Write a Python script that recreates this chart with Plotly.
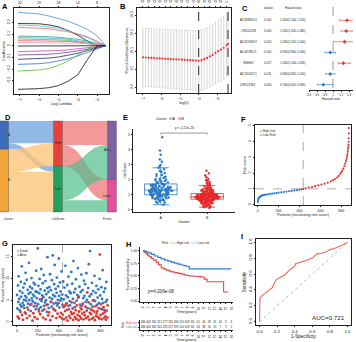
import plotly.graph_objects as go

W, H = 356, 342
def fx(p): return p / W
def fy(p): return 1 - p / H

FONT = "Liberation Sans"
INK = "#222222"
RED = "#E8372F"
BLUE = "#2C79C6"

# ---------------- A: LASSO coefficient paths ----------------
a_loglam = [-7.09, -6.5, -6.0, -5.5, -5.0, -4.5, -4.0, -3.5, -3.0, -2.55]
a_c01 = [0.286, 0.280, 0.272, 0.255, 0.235, 0.210, 0.177, 0.140, 0.085, 0.0]
a_c02 = [0.190, 0.190, 0.188, 0.178, 0.162, 0.130, 0.090, 0.040, 0.0, 0.0]
a_c03 = [0.177, 0.175, 0.170, 0.160, 0.150, 0.130, 0.100, 0.070, 0.030, 0.0]
a_c04 = [0.157, 0.155, 0.150, 0.145, 0.135, 0.120, 0.100, 0.075, 0.040, 0.0]
a_c05 = [0.083, 0.082, 0.080, 0.077, 0.072, 0.065, 0.055, 0.040, 0.020, 0.0]
a_c06 = [0.071, 0.070, 0.068, 0.066, 0.062, 0.055, 0.045, 0.030, 0.010, 0.0]
a_c07 = [0.057, 0.056, 0.055, 0.054, 0.050, 0.045, 0.035, 0.020, 0.005, 0.0]
a_c08 = [0.043, 0.043, 0.042, 0.042, 0.040, 0.037, 0.030, 0.020, 0.008, 0.0]
a_c09 = [0.026, 0.026, 0.026, 0.026, 0.025, 0.024, 0.022, 0.018, 0.010, 0.0]
a_c10 = [-0.003, -0.003, -0.003, -0.003, -0.002, -0.002, -0.001, -0.001, 0.0, 0.0]
a_c11 = [-0.051, -0.050, -0.049, -0.046, -0.042, -0.036, -0.028, -0.018, -0.008, 0.0]
a_c12 = [-0.080, -0.079, -0.077, -0.073, -0.067, -0.058, -0.045, -0.030, -0.012, 0.0]
a_c13 = [-0.117, -0.115, -0.112, -0.106, -0.097, -0.083, -0.065, -0.042, -0.018, 0.0]
a_c14 = [-0.160, -0.158, -0.154, -0.146, -0.133, -0.114, -0.088, -0.057, -0.025, 0.0]
a_c15 = [-0.217, -0.214, -0.208, -0.195, -0.170, -0.130, -0.080, -0.030, 0.0, 0.0]
a_c16 = [-0.374, -0.372, -0.368, -0.360, -0.342, -0.305, -0.250, -0.120, 0.0, 0.0]
a_colors = ["#4A8FDB", "#111111", "#3EC4D6", "#E8676A", "#2AA39A", "#39B8E0", "#66BB44", "#E85A5A",
            "#F08CB4", "#111111", "#C146C1", "#7B3F9E", "#2B2B5E", "#3A6FD8", "#58BB34", "#111111"]
a_ticks = [-7, -6, -5, -4, -3]
a_top_labels = ["20", "19", "18", "14", "8"]

# ---------------- B: cross-validation ----------------
b_loglam = [-7.0, -6.85, -6.7, -6.55, -6.4, -6.25, -6.1, -5.95, -5.8, -5.65, -5.5, -5.35, -5.2, -5.05,
            -4.9, -4.75, -4.6, -4.45, -4.3, -4.15, -4.0, -3.85, -3.7, -3.55, -3.4, -3.25, -3.1, -2.95,
            -2.8, -2.65, -2.5, -2.42]
b_dev = [10.065, 10.064, 10.063, 10.062, 10.061, 10.060, 10.059, 10.058, 10.057, 10.056, 10.055, 10.054,
         10.054, 10.053, 10.052, 10.051, 10.050, 10.049, 10.048, 10.047, 10.046, 10.049, 10.055, 10.062,
         10.070, 10.079, 10.090, 10.100, 10.108, 10.118, 10.132, 10.140]
b_sd = [0.161, 0.161, 0.161, 0.162, 0.162, 0.162, 0.162, 0.163, 0.163, 0.163, 0.163, 0.164, 0.164, 0.164,
        0.165, 0.165, 0.165, 0.166, 0.166, 0.166, 0.167, 0.167, 0.168, 0.168, 0.169, 0.170, 0.171, 0.172,
        0.173, 0.174, 0.175, 0.176]
b_min, b_1se = -4.0, -2.42
b_top_pos = [-7.0, -6.7, -6.4, -6.1, -5.8, -5.5, -5.2, -4.9, -4.6, -4.3, -4.0, -3.7, -3.4, -3.1, -2.8, -2.5]
b_top_lab = ["20", "20", "20", "20", "20", "20", "20", "20", "19", "19", "18", "16", "14", "12", "10", "5"]

# ---------------- C: forest plot ----------------
c_genes = ["AC099850.3", "LINC01138", "AC015908.3", "AL031985.3", "SNHG3", "AC145207.5", "LINC02362"]
c_pval = ["0.001", "0.001", "0.002", "0.001", "0.017", "0.011", "0.005"]
c_hr = [1.35, 1.33, 1.29, 0.93, 1.26, 0.93, 0.76]
c_lo = [1.16, 1.20, 1.01, 0.80, 1.14, 0.82, 0.61]
c_hi = [1.52, 1.48, 1.54, 1.06, 1.43, 1.05, 0.99]

# ---------------- D: alluvial ----------------
d_nodes = ["A", "B", "High", "Low", "Alive", "Dead"]
d_axes = ["cluster", "riskScore", "Fustat"]
d_src = [0, 0, 1, 1, 2, 2, 3, 3]
d_tgt = [2, 3, 2, 3, 4, 5, 4, 5]
d_val = [67, 17, 68, 120, 72, 63, 102, 35]

# ---------------- E: riskScore by cluster ----------------
e_a = [0.33, 0.44, 0.47, 0.53, 0.56, 0.61, 0.62, 0.66, 0.68, 0.69,
       0.71, 0.72, 0.76, 0.78, 0.78, 0.81, 0.83, 0.83, 0.86, 0.87, 0.88, 0.90, 0.91, 0.93, 0.94, 0.95, 0.95, 0.97, 0.98, 0.99,
       1.00, 1.01, 1.01, 1.03, 1.05, 1.05, 1.06, 1.08, 1.09, 1.10, 1.10, 1.12, 1.13, 1.15, 1.15, 1.16, 1.18, 1.19, 1.20, 1.21,
       1.21, 1.23, 1.24, 1.25, 1.26, 1.26, 1.27, 1.28, 1.29, 1.30,
       1.31, 1.32, 1.34, 1.35, 1.36, 1.37, 1.39, 1.40, 1.41, 1.43, 1.44, 1.45, 1.47, 1.48, 1.50, 1.51, 1.52, 1.54, 1.55, 1.57,
       1.58, 1.60, 1.61, 1.63, 1.64, 1.65, 1.66, 1.68, 1.69, 1.70,
       1.72, 1.75, 1.78, 1.81, 1.82, 1.86, 1.90, 1.93, 1.94, 1.99, 2.03, 2.05, 2.11, 2.15, 2.19,
       2.23, 2.31, 2.36, 2.44, 2.52, 2.57, 2.69, 2.78, 2.88, 2.97,
       3.18, 3.33, 3.64, 3.93, 4.81]
e_b = [0.12, 0.17, 0.19, 0.23, 0.25, 0.27, 0.30, 0.31, 0.33, 0.36, 0.37, 0.39,
       0.41, 0.42, 0.44, 0.45, 0.47, 0.48, 0.49, 0.50, 0.52, 0.53, 0.54, 0.55, 0.56, 0.57, 0.58, 0.59, 0.60, 0.61,
       0.61, 0.62, 0.63, 0.64, 0.64, 0.65, 0.66, 0.67, 0.67, 0.68, 0.69, 0.69,
       0.70, 0.70, 0.71, 0.71, 0.72, 0.72, 0.73, 0.73, 0.74, 0.74, 0.75, 0.75, 0.75, 0.76, 0.76, 0.77, 0.77, 0.77,
       0.78, 0.78, 0.79, 0.79, 0.79, 0.80, 0.80, 0.80, 0.81, 0.81, 0.81, 0.82, 0.82, 0.82, 0.83, 0.83, 0.83, 0.84,
       0.84, 0.84, 0.84, 0.85, 0.85, 0.85, 0.85,
       0.86, 0.86, 0.87, 0.87, 0.88, 0.88, 0.89, 0.89, 0.90, 0.90, 0.91, 0.91, 0.92, 0.92, 0.93, 0.93, 0.94, 0.94,
       0.95, 0.95, 0.96, 0.96, 0.97, 0.97, 0.98, 0.98, 0.99, 0.99, 1.00, 1.00, 1.01, 1.01, 1.02, 1.02, 1.03, 1.03,
       1.04, 1.04, 1.05, 1.05, 1.06, 1.06,
       1.07, 1.08, 1.10, 1.11, 1.12, 1.14, 1.15, 1.16, 1.18, 1.19, 1.20, 1.22, 1.23, 1.24, 1.26, 1.27, 1.28, 1.30,
       1.31, 1.32, 1.34, 1.35, 1.36, 1.38, 1.39,
       1.42, 1.46, 1.49, 1.53, 1.57, 1.61, 1.66, 1.70, 1.75, 1.79, 1.84, 1.90, 1.96,
       2.04, 2.15, 2.28, 2.41, 2.58]
e_groups = ["A", "B"]
e_pval_text = "p < 2.22e-16"

# ---------------- F: risk score curve ----------------
f_low_rank = [1, 3, 6, 10, 15, 20, 30, 40, 50, 65, 80, 100, 120, 140, 160, 180, 200, 225, 250, 275, 300,
              325, 350, 375, 400, 420, 436]
f_low_score = [0.17, 0.28, 0.36, 0.42, 0.46, 0.50, 0.54, 0.57, 0.60, 0.62, 0.64, 0.66, 0.68, 0.70, 0.72, 0.74,
               0.76, 0.78, 0.80, 0.83, 0.85, 0.87, 0.90, 0.92, 0.95, 0.97, 0.99]
f_high_rank = [437, 460, 490, 520, 550, 580, 610, 640, 670, 700, 720, 740, 760, 775, 790, 800, 810, 820, 830,
               838, 845, 850, 855, 859, 862, 865, 867, 869, 870, 871, 872, 873]
f_high_score = [1.00, 1.04, 1.08, 1.12, 1.17, 1.22, 1.27, 1.33, 1.40, 1.48, 1.55, 1.62, 1.72, 1.82, 1.95, 2.05,
                2.15, 2.28, 2.45, 2.60, 2.75, 2.90, 3.05, 3.20, 3.35, 3.50, 3.62, 3.78, 3.98, 4.20, 4.50, 4.85]
f_cut_rank, f_cut_score = 436, 1.0

# ---------------- G: survival status ----------------
g_status = ("AADAAADAAA" "ADAAAADAAD" "AAADAAAADA" "AADAAADAAA" "DAAAADAAAD" "AADAAADAAA" "AADAADAAAA"
            "DAAADAAAAD" "AAADAAADAA" "ADAADAAAAD" "AADAAADAAD" "AAADAADAAA" "AADAADAAAD" "AADAAADAAA"
            "DAADAA"
            "DADADAADAD" "ADADADADAA" "DADADADAAD" "ADADADADAD" "ADADADADAD" "DADADADADA" "DADADADADA"
            "DADADADADA" "DADADADADA" "DADADADADA" "DADADADADA" "DADADADADA" "DADADADADA" "DADADADADA"
            "DADD")
g_time = [6.2, 3.1, 1.2, 8.4, 4.6, 10.5, 0.8, 5.3, 2.7, 7.1,
          4.0, 2.3, 9.2, 5.8, 3.5, 12.8, 1.6, 6.7, 4.4, 0.5,
          7.9, 3.8, 5.1, 3.2, 8.8, 2.2, 6.0, 11.3, 1.9, 4.9,
          5.6, 9.7, 0.9, 3.3, 7.4, 4.2, 2.8, 6.5, 13.6, 5.0,
          1.4, 8.1, 3.9, 6.8, 2.5, 4.1, 10.1, 5.4, 7.7, 0.3,
          4.7, 6.3, 2.0, 9.0, 3.6, 5.9, 1.1, 8.6, 4.3, 7.0,
          2.9, 11.8, 3.6, 5.5, 6.9, 0.7, 16.9, 4.1, 8.3, 3.0,
          2.4, 6.6, 9.9, 5.2, 1.8, 7.5, 3.4, 12.2, 4.8, 5.3,
          6.1, 2.6, 8.9, 1.0, 5.7, 10.8, 3.7, 2.9, 7.2, 4.5,
          9.4, 0.6, 5.0, 6.4, 3.9, 2.3, 7.8, 14.9, 4.0, 1.5,
          6.9, 3.2, 2.2, 8.0, 5.6, 11.0, 0.4, 4.6, 7.3, 4.6,
          3.5, 9.6, 5.3, 1.3, 15.3, 6.2, 3.0, 4.2, 8.7, 2.8,
          13.1, 5.9, 2.6, 7.6, 4.4, 0.9, 6.7, 10.2, 3.8, 1.9,
          5.1, 8.2, 4.3, 14.6, 6.0, 3.3, 1.2, 9.1, 4.9, 7.0,
          2.1, 5.4, 11.6, 0.8, 6.3, 3.9,
          1.7, 9.3, 3.4, 5.2, 0.6, 7.9, 3.6, 2.5, 12.9, 4.0,
          6.1, 1.0, 4.3, 2.8, 8.5, 0.3, 5.7, 3.7, 10.4, 2.9,
          1.4, 7.0, 4.8, 3.8, 0.9, 6.6, 2.3, 11.5, 4.5, 1.8,
          8.8, 3.1, 5.3, 0.5, 14.0, 2.0, 6.8, 4.4, 3.4, 1.1,
          7.6, 2.7, 9.8, 0.7, 4.9, 3.8, 6.2, 1.6, 12.4, 5.6,
          0.4, 5.8, 2.4, 8.1, 1.3, 4.0, 3.3, 6.9, 0.8, 10.9,
          2.9, 3.7, 1.9, 7.3, 4.2, 5.5, 0.6, 9.5, 2.2, 6.0,
          1.5, 8.7, 3.5, 4.6, 0.9, 11.2, 2.6, 5.1, 6.8, 3.2,
          1.2, 7.8, 4.5, 13.3, 0.5, 5.9, 2.1, 16.3, 3.0, 4.1,
          1.8, 6.4, 0.7, 9.0, 2.7, 3.5, 4.9, 7.1, 1.0, 5.0,
          2.4, 10.6, 0.4, 4.8, 3.6, 6.7, 1.4, 8.3, 2.0, 3.9,
          2.5, 5.6, 1.1, 7.5, 3.2, 4.3, 0.8, 9.9, 15.5, 6.1,
          1.6, 3.0, 4.1, 8.0, 0.6, 5.3, 2.9, 11.9, 1.9, 4.4,
          3.4, 6.9, 0.9, 2.7, 2.2, 7.7, 1.3, 4.6, 0.5, 9.2,
          2.6, 5.1, 1.0, 3.8]
g_rank = list(range(1, 871, 3))
g_cut_rank = 436

# ---------------- H: Kaplan-Meier ----------------
h_high_t = [0, 0.2, 0.5, 0.8, 1.1, 1.5, 1.9, 2.4, 2.8, 3.3, 3.8, 4.2, 4.7, 5.1, 5.7, 6.3, 6.9, 7.5, 8.0, 8.4,
            9.2, 9.9, 10.5, 11.1, 11.6, 12.4, 13.6, 14.6, 15.4]
h_high_s = [1.0, 0.975, 0.945, 0.915, 0.885, 0.85, 0.815, 0.77, 0.72, 0.66, 0.635, 0.615, 0.595, 0.58, 0.565,
            0.55, 0.535, 0.52, 0.51, 0.50, 0.495, 0.487, 0.48, 0.436, 0.385, 0.385, 0.385, 0.18, 0.18]
h_low_t = [0, 0.5, 0.9, 1.5, 2.1, 2.7, 3.3, 3.9, 4.5, 5.1, 5.7, 6.3, 6.9, 7.4, 7.8, 8.3, 8.4, 12.0, 16.0]
h_low_s = [1.0, 0.98, 0.96, 0.93, 0.897, 0.87, 0.84, 0.815, 0.795, 0.775, 0.756, 0.735, 0.718, 0.705, 0.692,
           0.68, 0.641, 0.641, 0.641]
h_years = list(range(0, 17))
h_high_n = [436, 402, 352, 312, 277, 235, 180, 150, 109, 80, 61, 44, 33, 25, 16, 9, 4]
h_low_n = [436, 403, 362, 322, 295, 257, 195, 150, 109, 80, 56, 38, 25, 15, 7, 3, 1]
h_pval_text = "p=4.206e-08"

# ---------------- I: ROC ----------------
i_fpr = [0, 0, 0.005, 0.02, 0.04, 0.07, 0.10, 0.12, 0.14, 0.16, 0.17, 0.19, 0.24, 0.29, 0.33, 0.37, 0.40,
         0.41, 0.48, 0.53, 0.60, 0.65, 0.70, 0.74, 0.81, 0.85, 0.89, 0.96, 1.0]
i_tpr = [0, 0.23, 0.30, 0.32, 0.34, 0.36, 0.39, 0.41, 0.42, 0.46, 0.48, 0.53, 0.56, 0.59, 0.64, 0.67, 0.70,
         0.73, 0.75, 0.77, 0.80, 0.85, 0.86, 0.87, 0.91, 0.92, 0.94, 0.97, 1.0]
i_auc_text = "AUC=0.721"

# =====================================================================
def tf(size=3.6, color=INK):
    return dict(family=FONT, size=size, color=color)

def axis(domain, rng, anchor, title="", tsize=3.8, **kw):
    d = dict(domain=domain, range=rng, anchor=anchor, showgrid=False, zeroline=False,
             showline=True, linecolor=INK, linewidth=0.6, ticks="outside", ticklen=1.5,
             tickwidth=0.5, tickcolor=INK, tickfont=tf(), automargin=False, fixedrange=True,
             title=dict(text=title, font=tf(tsize), standoff=1))
    d.update(kw)
    return d

fig = go.Figure()
ann = []
shapes = []

# ---- A
a_curves = [a_c01, a_c02, a_c03, a_c04, a_c05, a_c06, a_c07, a_c08, a_c09, a_c10, a_c11, a_c12, a_c13,
            a_c14, a_c15, a_c16]
for vals, col in zip(a_curves, a_colors):
    fig.add_trace(go.Scatter(x=a_loglam, y=vals, mode="lines", line=dict(color=col, width=0.8),
                             xaxis="x", yaxis="y", showlegend=False, hoverinfo="skip"))
fig.add_trace(go.Scatter(x=a_ticks, y=[0] * len(a_ticks), mode="markers", marker=dict(opacity=0),
                         xaxis="x10", yaxis="y", showlegend=False, hoverinfo="skip"))

# ---- B
fig.add_trace(go.Scatter(x=b_loglam, y=b_dev, mode="markers",
                         marker=dict(color="#E8372F", size=2.2),
                         error_y=dict(type="data", array=b_sd, color="#B0B0B0", thickness=0.5, width=0.8),
                         xaxis="x2", yaxis="y2", showlegend=False, hoverinfo="skip"))
fig.add_trace(go.Scatter(x=b_top_pos, y=[10.0] * len(b_top_pos), mode="markers", marker=dict(opacity=0),
                         xaxis="x11", yaxis="y2", showlegend=False, hoverinfo="skip"))
for xv in (b_min, b_1se):
    shapes.append(dict(type="line", xref="x2", yref="y2 domain", x0=xv, x1=xv, y0=0, y1=1,
                       line=dict(color="#111", width=0.9, dash="dash")))

# ---- C
c_rows = list(range(len(c_genes), 0, -1))
for cond, col in ((lambda h: h > 1, RED), (lambda h: h <= 1, BLUE)):
    idx = [i for i, h in enumerate(c_hr) if cond(h)]
    fig.add_trace(go.Scatter(
        x=[c_hr[i] for i in idx], y=[c_rows[i] for i in idx], mode="markers",
        marker=dict(color=col, size=3, symbol="diamond"),
        error_x=dict(type="data", symmetric=False,
                     array=[c_hi[i] - c_hr[i] for i in idx],
                     arrayminus=[c_hr[i] - c_lo[i] for i in idx],
                     color=col, thickness=0.6, width=1),
        xaxis="x3", yaxis="y3", showlegend=False, hoverinfo="skip", cliponaxis=False))
shapes.append(dict(type="line", xref="x3", yref="paper", x0=1, x1=1, y0=fy(88), y1=fy(7),
                   line=dict(color="#555", width=0.6, dash="dash")))
ann.append(dict(x=fx(268), y=fy(8), text="pvalue", font=tf(3)))
ann.append(dict(x=fx(293), y=fy(8), text="Hazard ratio", font=tf(3)))
for i, g in enumerate(c_genes):
    ry = fy(20 + i * 10.8)
    ann.append(dict(x=fx(248), y=ry, text=g, font=tf(3)))
    ann.append(dict(x=fx(268), y=ry, text=c_pval[i], font=tf(3)))
    ann.append(dict(x=fx(293), y=ry, text=f"{c_hr[i]:.3f}({c_lo[i]:.3f}-{c_hi[i]:.3f})", font=tf(3)))

# ---- D
d_node_col = ["#3D6DB5", "#F5A43A", "#E8403A", "#23A05F", "#7E62A3", "#E2529A"]
d_link_col = ["rgba(110,160,220,0.75)"] * 2 + ["rgba(252,196,120,0.8)"] * 2 + \
             ["rgba(238,110,110,0.7)"] * 2 + ["rgba(80,190,140,0.7)"] * 2
fig.add_trace(go.Sankey(
    domain=dict(x=[fx(4), fx(112)], y=[fy(212), fy(121)]),
    arrangement="fixed",
    node=dict(label=[""] * 6, pad=0.1, thickness=9, color=d_node_col,
              line=dict(color="#444", width=0.4),
              x=[0.001, 0.001, 0.5, 0.5, 0.999, 0.999],
              y=[0.154, 0.654, 0.248, 0.748, 0.32, 0.82]),
    link=dict(source=d_src, target=d_tgt, value=d_val, color=d_link_col),
    hoverinfo="skip"))
for name, xp, yp in zip(d_nodes, [8.5, 8.5, 58, 58, 107, 107], [135, 180, 143, 189, 150, 196]):
    ann.append(dict(x=fx(xp), y=fy(yp), text=name, font=tf(3)))
for name, xp in zip(d_axes, [8.5, 58, 107]):
    ann.append(dict(x=fx(xp), y=fy(219), text=name, font=tf(3)))

# ---- E
for grp, vals, col in ((e_groups[0], e_a, "#2A78C4"), (e_groups[1], e_b, "#E8292A")):
    fig.add_trace(go.Box(x=[grp] * len(vals), y=vals, boxpoints="all", jitter=0.75, pointpos=0,
                         width=0.7, marker=dict(color=col, size=2.4), line=dict(color=col, width=0.8),
                         fillcolor="rgba(255,255,255,0)", xaxis="x4", yaxis="y4",
                         showlegend=False, hoverinfo="skip"))
for x0, y0, x1, y1 in (("A", 4.98, "A", 5.08), ("A", 5.08, "B", 5.08), ("B", 5.08, "B", 4.98)):
    shapes.append(dict(type="line", xref="x4", yref="y4", x0=x0, y0=y0, x1=x1, y1=y1,
                       line=dict(color="#555", width=0.6)))
ann.append(dict(x=0.5, y=5.12, xref="x4", yref="y4", text=e_pval_text, font=tf(3.4), yanchor="bottom"))
ann.append(dict(x=fx(170), y=fy(119),
                text='cluster  <span style="color:#2A78C4">⊟</span> A   <span style="color:#E8292A">⊟</span> B',
                font=tf(3.6)))

# ---- F
fig.add_trace(go.Scatter(x=f_low_rank, y=f_low_score, mode="markers", marker=dict(color=BLUE, size=2.2),
                         xaxis="x5", yaxis="y5", showlegend=False, hoverinfo="skip"))
fig.add_trace(go.Scatter(x=f_high_rank, y=f_high_score, mode="markers", marker=dict(color=RED, size=2.2),
                         xaxis="x5", yaxis="y5", showlegend=False, hoverinfo="skip"))
shapes.append(dict(type="line", xref="x5", yref="y5 domain", x0=f_cut_rank, x1=f_cut_rank, y0=0, y1=1,
                   line=dict(color="#777", width=0.6, dash="dash")))
shapes.append(dict(type="line", xref="x5 domain", yref="y5", x0=0, x1=1, y0=f_cut_score, y1=f_cut_score,
                   line=dict(color="#777", width=0.6, dash="dash")))
ann.append(dict(x=fx(258), y=fy(127), xanchor="left", yanchor="top", align="left",
                text=f'<span style="color:{RED}">●</span> High risk<br><span style="color:{BLUE}">●</span> Low Risk',
                font=tf(3.2)))

# ---- G
g_dead_x = [r for r, s in zip(g_rank, g_status) if s == "D"]
g_dead_y = [t for t, s in zip(g_time, g_status) if s == "D"]
g_alive_x = [r for r, s in zip(g_rank, g_status) if s == "A"]
g_alive_y = [t for t, s in zip(g_time, g_status) if s == "A"]
fig.add_trace(go.Scatter(x=g_alive_x, y=g_alive_y, mode="markers", marker=dict(color=BLUE, size=2.8),
                         xaxis="x6", yaxis="y6", showlegend=False, hoverinfo="skip"))
fig.add_trace(go.Scatter(x=g_dead_x, y=g_dead_y, mode="markers", marker=dict(color=RED, size=2.8),
                         xaxis="x6", yaxis="y6", showlegend=False, hoverinfo="skip"))
shapes.append(dict(type="line", xref="x6", yref="y6 domain", x0=g_cut_rank, x1=g_cut_rank, y0=0, y1=1,
                   line=dict(color="#777", width=0.6, dash="dash")))
ann.append(dict(x=fx(15), y=fy(247), xanchor="left", yanchor="top", align="left",
                text=f'<span style="color:{RED}">●</span> Dead<br><span style="color:{BLUE}">●</span> Alive',
                font=tf(3.2)))

# ---- H
fig.add_trace(go.Scatter(x=h_high_t, y=h_high_s, mode="lines", line=dict(color="#E8473E", width=1.1, shape="hv"),
                         xaxis="x7", yaxis="y7", showlegend=False, hoverinfo="skip"))
fig.add_trace(go.Scatter(x=h_low_t, y=h_low_s, mode="lines", line=dict(color="#2E7FC9", width=1.1, shape="hv"),
                         xaxis="x7", yaxis="y7", showlegend=False, hoverinfo="skip"))
ann.append(dict(x=0.6, y=0.18, xref="x7", yref="y7", xanchor="left", text=h_pval_text, font=tf(4.6)))
ann.append(dict(x=fx(186), y=fy(243),
                text='Risk  <span style="color:#E8473E">━+━</span> High risk  <span style="color:#2E7FC9">━+━</span> Low risk',
                font=tf(3.2)))
fig.add_trace(go.Scatter(x=h_years, y=[2] * len(h_years), mode="text", text=[str(v) for v in h_high_n],
                         textfont=tf(2.9), xaxis="x8", yaxis="y8", showlegend=False, hoverinfo="skip"))
fig.add_trace(go.Scatter(x=h_years, y=[1] * len(h_years), mode="text", text=[str(v) for v in h_low_n],
                         textfont=tf(2.9), xaxis="x8", yaxis="y8", showlegend=False, hoverinfo="skip"))

# ---- I
fig.add_trace(go.Scatter(x=[0, 1], y=[0, 1], mode="lines", line=dict(color="#888", width=0.6, dash="dot"),
                         xaxis="x9", yaxis="y9", showlegend=False, hoverinfo="skip"))
fig.add_trace(go.Scatter(x=i_fpr, y=i_tpr, mode="lines", line=dict(color="#F0664D", width=1.1),
                         xaxis="x9", yaxis="y9", showlegend=False, hoverinfo="skip"))
ann.append(dict(x=0.99, y=0.06, xref="x9", yref="y9", xanchor="right", text=i_auc_text, font=tf(6.2)))

# ---- panel letters
for letter, xp, yp in (("A", 0, 0), ("B", 118, 0), ("C", 240, 2), ("D", 3, 111), ("E", 121, 111),
                       ("F", 239, 113), ("G", 0, 237), ("H", 124, 238), ("I", 239, 230)):
    ann.append(dict(x=fx(xp), y=fy(yp), xanchor="left", yanchor="top", text=f"<b>{letter}</b>",
                    font=dict(family=FONT, size=7.5, color="#000")))

for a in ann:
    a.setdefault("xref", "paper")
    a.setdefault("yref", "paper")
    a.setdefault("showarrow", False)
    a.setdefault("xanchor", "center")
    a.setdefault("yanchor", "middle")

box = dict(mirror=True)
layout = dict(
    width=W, height=H, margin=dict(l=0, r=0, t=0, b=0), paper_bgcolor="white", plot_bgcolor="white",
    font=tf(), showlegend=False, annotations=ann, shapes=shapes,
    # A
    xaxis=axis([fx(14), fx(109)], [-7.3, -2.38], "y", "Log Lambda", tickvals=a_ticks, **box),
    yaxis=axis([fy(94), fy(8)], [-0.414, 0.323], "x", "Coefficients", tickvals=[-0.3, -0.2, -0.1, 0.0, 0.1, 0.2],
               tickangle=-90, **box),
    xaxis10=axis([fx(14), fx(109)], [-7.3, -2.38], "y", overlaying="x", side="top", tickvals=a_ticks,
                 ticktext=a_top_labels, showline=False),
    # B
    xaxis2=axis([fx(137), fx(231)], [-7.32, -2.26], "y2", "log(λ)", tickvals=a_ticks, **box),
    yaxis2=axis([fy(93), fy(8)], [9.867, 10.339], "x2", "Partial Likelihood Deviance",
                tickvals=[9.9, 10.0, 10.1, 10.2, 10.3], tickangle=-90, **box),
    xaxis11=axis([fx(137), fx(231)], [-7.32, -2.26], "y2", overlaying="x2", side="top", tickvals=b_top_pos,
                 ticktext=b_top_lab, showline=False, tickfont=tf(3)),
    # C
    xaxis3=axis([fx(309), fx(353)], [0.4, 1.5], "y3", "Hazard ratio", tickvals=[0.4, 0.6, 0.8, 1.0, 1.2, 1.4],
                tickfont=tf(3), tsize=3.4),
    yaxis3=dict(domain=[fy(90), fy(15)], range=[0.5, 7.5], anchor="x3", visible=False, fixedrange=True),
    # E
    xaxis4=axis([fx(133), fx(235)], [-0.6, 1.6], "y4", "cluster", type="category"),
    yaxis4=axis([fy(212), fy(129)], [-0.15, 5.35], "x4", "riskScore", tickvals=[0, 1, 2, 3, 4, 5]),
    # F
    xaxis5=axis([fx(255), fx(351)], [-26, 893], "y5", "Patients (increasing risk score)",
                tickvals=[0, 200, 400, 600, 800], **box),
    yaxis5=axis([fy(205), fy(125)], [-0.02, 5.04], "x5", "Risk score", tickvals=[0, 1, 2, 3, 4, 5],
                tickangle=-90, **box),
    # G
    xaxis6=axis([fx(13), fx(111)], [-38, 900], "y6", "Patients (increasing risk score)",
                tickvals=[0, 200, 400, 600, 800], **box),
    yaxis6=axis([fy(325), fy(245)], [-0.7, 17.7], "x6", "Survival time (years)", tickvals=[0, 5, 10, 15],
                tickangle=-90, **box),
    # H
    xaxis7=axis([fx(140), fx(233)], [-0.55, 16.3], "y7", "Time(years)", tickvals=h_years, tickfont=tf(3.2)),
    yaxis7=axis([fy(302), fy(247)], [-0.02, 1.077], "x7", "Survival probability",
                tickvals=[0, 0.25, 0.5, 0.75, 1.0], ticktext=["0.00", "0.25", "0.50", "0.75", "1.00"],
                tickfont=tf(3.2)),
    xaxis8=axis([fx(140), fx(233)], [-0.55, 16.3], "y8", "Time(years)", tickvals=h_years, tickfont=tf(3.2)),
    yaxis8=axis([fy(330), fy(320)], [0.4, 2.6], "x8", "Risk", tickvals=[1, 2],
                ticktext=['<span style="color:#2E7FC9">Low risk</span>',
                          '<span style="color:#E8473E">High risk</span>'], tickfont=tf(3), tsize=3.2),
    # I
    xaxis9=axis([fx(256), fx(351)], [-0.04, 1.04], "y9", "1-Specificity",
                tickvals=[0, 0.2, 0.4, 0.6, 0.8, 1.0], ticktext=["0.0", "0.2", "0.4", "0.6", "0.8", "1.0"],
                tickfont=tf(4.4), tsize=4.6, **box),
    yaxis9=axis([fy(325), fy(239)], [-0.04, 1.04], "x9", "Sensitivity",
                tickvals=[0, 0.2, 0.4, 0.6, 0.8, 1.0], ticktext=["0.0", "0.2", "0.4", "0.6", "0.8", "1.0"],
                tickangle=-90, tickfont=tf(4.4), tsize=4.6, **box),
)
fig.update_layout(**layout)
fig.write_html("out.html", config={"displayModeBar": False},
               post_script="document.body.style.margin='0';")
